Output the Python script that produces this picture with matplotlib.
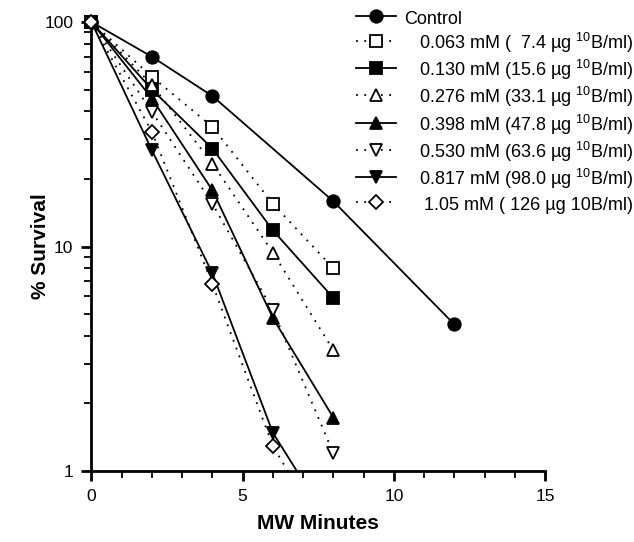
import matplotlib
matplotlib.use("Agg")
import matplotlib.pyplot as plt
import numpy as np
from matplotlib.ticker import FixedLocator, NullFormatter, MultipleLocator

plt.rcParams['font.family'] = ['Liberation Sans', 'DejaVu Sans']
plt.rcParams['mathtext.default'] = 'regular'

# MW minutes
t = [0, 2, 4, 6, 8]
t_ctrl = [0, 2, 4, 8, 12]

# % survival
control = [100, 70, 46.8, 15.9, 4.5]
s_063 = [100, 57, 34.1, 15.5, 8.0]
s_130 = [100, 50, 27.3, 11.8, 5.9]
s_276 = [100, 52.5, 23.4, 9.4, 3.45]
s_398 = [100, 45.6, 17.8, 4.8, 1.73]
s_530 = [100, 39.8, 15.5, 5.2, 1.2]
s_817 = [100, 26.8, 7.6, 1.48, 0.55]
s_105 = [100, 32.4, 6.8, 1.29, 0.46]

labels = ["Control",
          "   0.063 mM (  7.4 \u00b5g $^{10}$B/ml)",
          "   0.130 mM (15.6 \u00b5g $^{10}$B/ml)",
          "   0.276 mM (33.1 \u00b5g $^{10}$B/ml)",
          "   0.398 mM (47.8 \u00b5g $^{10}$B/ml)",
          "   0.530 mM (63.6 \u00b5g $^{10}$B/ml)",
          "   0.817 mM (98.0 \u00b5g $^{10}$B/ml)",
          "    1.05 mM ( 126 \u00b5g 10B/ml)"]

series = [(t_ctrl, control, 'o', 'k', '-'),
          (t, s_063, 's', 'w', ':'),
          (t, s_130, 's', 'k', '-'),
          (t, s_276, '^', 'w', ':'),
          (t, s_398, '^', 'k', '-'),
          (t, s_530, 'v', 'w', ':'),
          (t, s_817, 'v', 'k', '-'),
          (t, s_105, 'D', 'w', ':')]

fig = plt.figure(figsize=(6.34, 5.42), dpi=100)
ax = fig.add_axes([0.1443, 0.131, 0.7153, 0.8284])

msizes = {'o': 9, 's': 8, '^': 9, 'v': 9, 'D': 7}
for (xs, ys, m, fc, ls), lab in zip(series, labels):
    dash = ls if ls == '-' else (0, (1, 3.6))
    ax.plot(xs, ys, linestyle=dash, color='k', lw=1.3, marker=m,
            markersize=msizes[m], markerfacecolor=fc, markeredgecolor='k',
            markeredgewidth=1.3, label=lab)
    # corner point drawn unclipped
    ax.plot(xs[0], ys[0], linestyle='none', marker=m, markersize=msizes[m],
            markerfacecolor=fc, markeredgecolor='k', markeredgewidth=1.3,
            clip_on=False, zorder=5)

ax.set_yscale('log')
ax.set_ylim(1, 100)
ax.set_xlim(0, 15)
ax.yaxis.set_major_locator(FixedLocator([1, 10, 100]))
ax.set_yticklabels(['1', '10', '100'])
ax.yaxis.set_minor_locator(FixedLocator([k * 10 ** e for e in (0, 1) for k in range(2, 10)]))
ax.yaxis.set_minor_formatter(NullFormatter())
ax.xaxis.set_major_locator(MultipleLocator(5))
ax.xaxis.set_minor_locator(MultipleLocator(1))

for s in ['top', 'right']:
    ax.spines[s].set_visible(False)
for s in ['left', 'bottom']:
    ax.spines[s].set_linewidth(2)
ax.tick_params(which='major', direction='out', length=7, width=2, labelsize=12.5, pad=6)
ax.tick_params(which='minor', direction='out', length=5, width=1.3)

ax.set_xlabel("MW Minutes", fontsize=15, fontweight='bold')
ax.set_ylabel("% Survival", fontsize=15, fontweight='bold')
ax.xaxis.set_label_coords(0.5, -0.095)
ax.yaxis.set_label_coords(-0.092, 0.5)

fig.legend(loc='upper left', bbox_to_anchor=(356 / 634, 1 - 8 / 542),
           frameon=False, fontsize=13, handlelength=2.2, handletextpad=0.45,
           handleheight=1.3, labelspacing=0.17, borderpad=0, borderaxespad=0)

fig.savefig("out.png", dpi=100)
